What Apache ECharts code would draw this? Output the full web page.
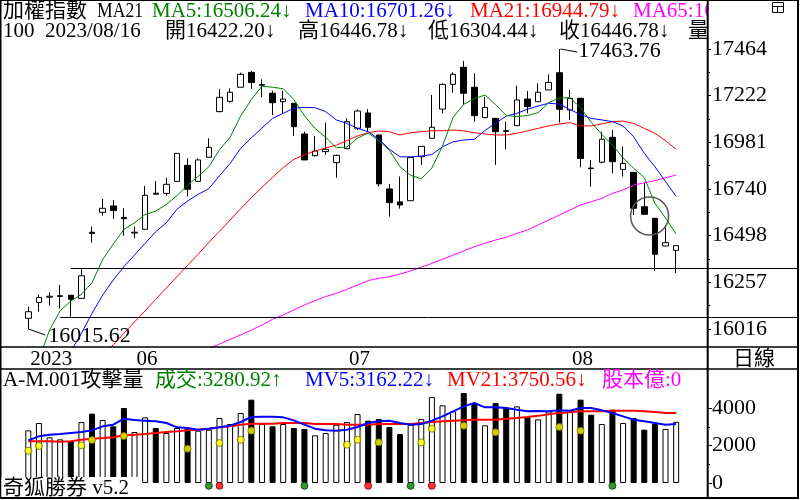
<!DOCTYPE html>
<html lang="zh-Hant">
<head>
<meta charset="UTF-8">
<title>加權指數 日線</title>
<script src="https://cdn.jsdelivr.net/npm/echarts@6/dist/echarts.min.js"></script>
<style>html,body{margin:0;padding:0;background:#fff}</style>
</head>
<body>
<div id="main" style="width:800px;height:500px"></div>
<script>
// ---- data ----
const dates = [
  '2023/05/18','2023/05/19','2023/05/22','2023/05/23','2023/05/24','2023/05/25','2023/05/26','2023/05/29','2023/05/30','2023/05/31',
  '2023/06/01','2023/06/02','2023/06/05','2023/06/06','2023/06/07','2023/06/08','2023/06/09','2023/06/12','2023/06/13','2023/06/14',
  '2023/06/15','2023/06/16','2023/06/19','2023/06/20','2023/06/21','2023/06/26','2023/06/27','2023/06/28','2023/06/29','2023/06/30',
  '2023/07/03','2023/07/04','2023/07/05','2023/07/06','2023/07/07','2023/07/10','2023/07/11','2023/07/12','2023/07/13','2023/07/14',
  '2023/07/17','2023/07/18','2023/07/19','2023/07/20','2023/07/21','2023/07/24','2023/07/25','2023/07/26','2023/07/27','2023/07/28',
  '2023/07/31','2023/08/01','2023/08/02','2023/08/04','2023/08/07','2023/08/08','2023/08/09','2023/08/10','2023/08/11','2023/08/14',
  '2023/08/15','2023/08/16'
];
const opens = [16071,16153,16180,16184,16190,16174,16516,16619,16652,16593,
  16512,16531,16718,16717,16779,16862,16779,16904,17140,17193,
  17266,17343,17276,17235,17191,17183,17024,16912,16933,16876,
  16948,17054,17133,17019,16740,16673,16679,16907,17002,17153,
  17281,17369,17266,17109,17105,17041,17067,17205,17191,17252,
  17341,17148,17209,16848,16878,17007,16841,16826,16648,16588,
  16445,16422.20];
const closes = [16105,16179,16185,16188,16169,16291,16510,16640,16628,16586,
  16516,16707,16713,16764,16924,16738,16890,16955,17214,17240,
  17333,17291,17280,17186,17205,17062,16890,16936,16945,16914,
  17088,17143,17059,16766,16669,16657,16902,16960,17059,17281,
  17333,17235,17119,17162,17036,17038,17200,17166,17240,17291,
  17152,17209,16898,16845,16997,16881,16872,16640,16609,16402,
  16462,16446.78];
const lows = [16015.62,16105,16136,16122,16079,16174,16462,16602,16585,16498,
  16485,16531,16712,16705,16779,16700,16779,16904,17136,17186,
  17266,17258,17214,17122,17131,17014,16890,16907,16916,16798,
  16948,17045,17036,16752,16597,16638,16679,16864,17002,17131,
  17238,17174,17088,17105,16864,16945,17067,17131,17191,17252,
  17083,17097,16852,16752,16872,16821,16804,16605,16609,16317,
  16445,16304.44];
const highs = [16131,16195,16205,16243,16191,16329,16545,16688,16683,16640,
  16545,16755,16781,16798,16924,16898,16898,17002,17257,17260,
  17341,17350,17307,17248,17248,17183,17036,17014,17083,16917,
  17105,17152,17153,17019,16766,16804,16902,16960,17226,17286,
  17343,17402,17338,17217,17105,17088,17274,17247,17286,17333,
  17463.76,17252,17209,16890,17036,17045,16959,16826,16772,16588,
  16545,16446.78];

const ma5 = [15780,15860,16010,16110,16160,16195,16255,16375,16455,16530,
  16565,16608,16625,16660,16705,16760,16805,16855,16942,17007,
  17118,17202,17272,17266,17258,17203,17118,17053,17007,16953,
  16957,17003,17029,16990,16940,16855,16810,16793,16848,16962,
  17110,17178,17207,17226,17176,17120,17114,17120,17134,17186,
  17210,17212,17160,17085,17022,16967,16901,16847,16799,16665,
  16590,16506.24];
const ma10 = [null,null,null,15800,15900,15993,16097,16191,16269,16338,
  16398,16459,16519,16565,16635,16678,16712,16742,16808,16872,
  16950,17004,17055,17105,17131,17158,17162,17160,17140,17097,
  17079,17053,17036,16998,16945,16906,16906,16910,16918,16958,
  16984,16993,16997,17042,17080,17117,17131,17152,17169,17183,
  17179,17150,17125,17105,17097,17088,17066,17010,16924,16855,
  16778,16701.26];
const ma21 = [null,null,null,null,null,null,null,15870,15935,15993,
  16052,16110,16169,16228,16286,16345,16403,16464,16521,16579,
  16638,16695,16748,16800,16850,16893,16917,16936,16952,16967,
  16990,17014,17031,17040,17036,17019,17031,17036,17041,17041,
  17045,17040,17031,17024,17019,17019,17028,17040,17053,17066,
  17076,17083,17066,17066,17076,17088,17091,17079,17053,17028,
  16990,16944.79];
const ma65 = [null,null,null,null,null,null,null,null,null,null,
  null,null,null,null,null,null,15895,15915,15938,15962,
  15985,16010,16036,16066,16088,16114,16140,16162,16183,16200,
  16221,16243,16266,16278,16286,16300,16316,16335,16355,16376,
  16398,16419,16441,16459,16476,16490,16510,16528,16554,16579,
  16605,16631,16657,16674,16691,16717,16735,16760,16772,16783,
  16798,16812];

const volumes = [2823,3217,2448,2341,2234,3270,3717,3377,3038,4021,
  2734,3520,2949,2681,2949,2949,2806,2859,3485,3163,
  3753,4468,3163,3038,3163,2949,2895,2555,2681,3127,
  3270,3699,3342,3431,3002,2627,3127,3431,4610,4164,
  3842,4825,4289,3092,4289,4021,4110,3520,3413,3842,
  4789,3842,4468,3663,3163,3931,3217,3485,2859,3163,
  2895,3280.92];
const mv5 = [2287,2502,2591,2627,2681,2734,2823,3038,3127,3449,
  3377,3342,3306,3217,2984,2949,2859,2913,2984,3074,
  3270,3538,3556,3556,3520,3360,3127,2913,2823,2806,
  2859,3002,3217,3306,3342,3217,3127,3163,3342,3574,
  3842,4110,4289,4056,4056,4021,3931,3842,3860,3842,
  3896,3878,4021,4021,3896,3753,3574,3395,3306,3217,
  3127,3162.22];
const mv21 = [2234,2234,2234,2216,2234,2323,2377,2412,2448,2555,
  2591,2627,2681,2734,2770,2823,2859,2913,2984,3038,
  3127,3181,3181,3181,3217,3217,3217,3163,3163,3163,
  3127,3127,3127,3163,3163,3163,3163,3217,3270,3306,
  3342,3360,3395,3395,3395,3449,3485,3538,3600,3690,
  3760,3800,3842,3842,3842,3878,3878,3878,3842,3806,
  3760,3750.56];

// yellow "attack volume" dots, green / red signal dots
const attackIdx  = [0,1,5,6,9,15,18,20,21,30,31,33,37,38,41,44,50,52];
const attackVals = [1732,1984,2020,2305,2520,1840,2145,2323,2805,2055,2323,2180,2180,2913,3074,2716,3003,2805];
const buyIdx  = [17,26,36,55];
const sellIdx = [18,32,38];

// axis labels / ticks
const axisMarkIdx  = [0,10,30,51];
const axisMarkText = ['2023','06','07','08'];
const weekTickIdx  = [7,17,22,25,40,45,54,59];
const priceTicks = [16015.62,16256.98,16498.33,16739.69,16981.05,17222.40,17463.76];
const priceMinor = [16136.30,16377.65,16619.01,16860.37,17101.72,17343.08];
const volTicks = [0,2000,4000];
const volMinor = [1000,3000];

// ---- chart ----
const FONT = "'Liberation Serif', 'Noto Sans CJK TC', serif";
const SIGNAL_Y = -150;
const chart = echarts.init(document.getElementById('main'));
const cats = dates.concat(['', '']);
const candles = opens.map((o, i) => [o, closes[i], lows[i], highs[i]]);
const isUp = i => closes[i] >= opens[i];
const has = (arr, i) => arr.indexOf(i) >= 0;

function maLine(data, color, width, xi, yi) {
  return {
    type: 'line', xAxisIndex: xi, yAxisIndex: yi, data: data,
    symbol: 'none', connectNulls: false, silent: true, z: 3,
    lineStyle: { color: color, width: width }, itemStyle: { color: color }
  };
}
function valueAxis(grid, min, max, ticks, len, labels) {
  return {
    type: 'value', gridIndex: grid, position: 'right', offset: 4.3, min: min, max: max,
    axisLine: { show: false }, splitLine: { show: false },
    axisTick: { show: true, customValues: ticks, length: len, lineStyle: { color: '#000' } },
    axisLabel: labels ? {
      customValues: ticks, formatter: v => String(Math.round(v)), margin: 5,
      color: '#000', fontFamily: FONT, fontSize: 22
    } : { show: false }
  };
}

const option = {
  animation: false,
  backgroundColor: '#fff',
  grid: [
    { left: 23, top: 0, width: 679.7, height: 347 },
    { left: 23, top: 369, width: 679.7, height: 128.7 }
  ],
  xAxis: [
    { type: 'category', gridIndex: 0, data: cats, position: 'bottom',
      axisLine: { show: false }, axisLabel: { show: false }, splitLine: { show: false },
      axisTick: { alignWithLabel: true, length: 5, interval: i => has(weekTickIdx, i), lineStyle: { color: '#000' } } },
    { type: 'category', gridIndex: 0, data: cats, position: 'bottom',
      axisLine: { show: false }, splitLine: { show: false },
      axisTick: { alignWithLabel: true, length: 12, interval: i => i > 0 && has(axisMarkIdx, i), lineStyle: { color: '#000' } },
      axisLabel: { interval: i => has(axisMarkIdx, i), formatter: (v, i) => axisMarkText[axisMarkIdx.indexOf(i)],
        align: 'left', padding: [0, 0, 0, 2], margin: 2, color: '#000', fontFamily: FONT, fontSize: 21 } },
    { type: 'category', gridIndex: 0, data: cats, position: 'bottom',
      axisLine: { show: false }, axisLabel: { show: false }, splitLine: { show: false },
      axisTick: { alignWithLabel: true, length: 18, interval: i => i === axisMarkIdx[0], lineStyle: { color: '#000' } } },
    { type: 'category', gridIndex: 1, data: cats, show: false }
  ],
  yAxis: [
    valueAxis(0, 15922.5, 17717.2, priceTicks, 4, true),
    valueAxis(0, 15922.5, 17717.2, priceMinor, 3, false),
    valueAxis(1, -788, 6113, volTicks, 5, true),
    valueAxis(1, -788, 6113, volMinor, 3, false)
  ],
  series: [
    { type: 'candlestick', xAxisIndex: 0, yAxisIndex: 0, data: candles, barWidth: 6, silent: true,
      itemStyle: { color: '#fff', color0: '#000', borderColor: '#000', borderColor0: '#000',
        borderColorDoji: '#000', borderWidth: 1 } },
    maLine(ma65, '#ff00ff', 1, 0, 0),
    maLine(ma21, '#ff0000', 1, 0, 0),
    maLine(ma10, '#0000ff', 1, 0, 0),
    maLine(ma5, '#008000', 1, 0, 0),
    { type: 'bar', xAxisIndex: 3, yAxisIndex: 2, barWidth: 6, silent: true,
      data: volumes.map((v, i) => ({ value: v, itemStyle: isUp(i)
        ? { color: '#fff', borderColor: '#000', borderWidth: 1 }
        : { color: '#000', borderColor: '#000', borderWidth: 1 } })) },
    maLine(mv21, '#ff0000', 2, 3, 2),
    maLine(mv5, '#0000ff', 2, 3, 2),
    { type: 'scatter', xAxisIndex: 3, yAxisIndex: 2, symbolSize: 7, silent: true, z: 5,
      data: attackIdx.map((i, k) => [i, attackVals[k]]),
      itemStyle: { color: '#ffff00', borderColor: '#6e6e00', borderWidth: 1 } },
    { type: 'scatter', xAxisIndex: 3, yAxisIndex: 2, symbolSize: 7, silent: true, z: 5,
      data: buyIdx.map(i => [i, SIGNAL_Y]),
      itemStyle: { color: '#008000', borderColor: '#003300', borderWidth: 1 } },
    { type: 'scatter', xAxisIndex: 3, yAxisIndex: 2, symbolSize: 7, silent: true, z: 5,
      data: sellIdx.map(i => [i, SIGNAL_Y]),
      itemStyle: { color: '#ff0000', borderColor: '#660000', borderWidth: 1 } }
  ]
};
chart.setOption(option);

// ---- overlays: frame, header texts, annotations ----
const g = [];
function line(x1, y1, x2, y2, w, c) {
  g.push({ type: 'line', z: 100, silent: true, shape: { x1: x1, y1: y1, x2: x2, y2: y2 },
    style: { stroke: c || '#000', lineWidth: w || 1 } });
}
function text(x, y, s, c, size, extra, z) {
  const el = { type: 'text', z: z || 102, silent: true, x: x, y: y,
    style: { text: s, fill: c || '#000', font: (size || 21) + 'px ' + FONT, verticalAlign: 'middle' } };
  g.push(Object.assign(el, extra || {}));
}
const px = (i, v) => chart.convertToPixel({ xAxisIndex: 0, yAxisIndex: 0 }, [i, v]);
const last = dates.length - 1;

// frame
line(0.75, 0, 0.75, 498, 1.5);
line(0, 0.5, 798, 0.5, 1);
line(707.7, 0, 707.7, 498, 2);
line(798, 0, 798, 499, 2);
line(0, 498, 799, 498, 2);
line(0, 347, 798, 347, 1.5);
line(0, 369, 798, 369, 1.5);

// support / resistance lines
[[4, highs[5]], [3, lows[4]]].forEach(function (d) {
  const p = px(d[0], d[1]);
  const y = Math.round(p[1]) + 0.5;
  line(p[0], y, 797, y, 1);
});

// extreme labels
const hi = px(50, highs[50]);
line(hi[0] + 1, hi[1], hi[0] + 18, hi[1] + 3, 1);
text(hi[0] + 19, hi[1] + 2, highs[50].toFixed(2), '#000', 22);
const lo = px(0, lows[0]);
line(lo[0], lo[1], lo[0] + 17, lo[1] + 6, 1);
text(lo[0] + 20, lo[1] + 7, lows[0].toFixed(2), '#000', 22);

// circle marker
const ca = px(58, 16600), cb = px(59, 16600);
g.push({ type: 'circle', z: 100, silent: true, shape: { cx: (ca[0] + cb[0]) / 2, cy: ca[1], r: 19 },
  style: { fill: 'none', stroke: '#555', lineWidth: 1.5 } });

// header row 1
text(3, 11, '加權指數');
text(97, 11, 'MA21', '#000', 21, { scaleX: 0.84 });
text(152, 11, 'MA5:' + ma5[last].toFixed(2) + '↓', '#008000');
text(305, 11, 'MA10:' + ma10[last].toFixed(2) + '↓', '#0000ff');
text(470, 11, 'MA21:' + ma21[last].toFixed(2) + '↓', '#ff0000');
text(633, 11, 'MA65:' + ma65[last].toFixed(2) + '↓', '#ff00ff', 21, null, 98);
// mask the part of the header that runs under the price scale
g.push({ type: 'rect', z: 99, silent: true, shape: { x: 708.7, y: 1, width: 88.3, height: 22 },
  style: { fill: '#fff' } });
// header row 2
text(3, 31, '100');
text(45, 31, dates[last]);
text(165, 31, '開' + opens[last].toFixed(2) + '↓');
text(298, 31, '高' + highs[last].toFixed(2) + '↓');
text(428, 31, '低' + lows[last].toFixed(2) + '↓');
text(559, 31, '收' + closes[last].toFixed(2) + '↓');
text(688, 31, '量');

// window icon
g.push({ type: 'rect', z: 100, silent: true, shape: { x: 772.5, y: 2.5, width: 11, height: 10 },
  style: { fill: 'none', stroke: '#000', lineWidth: 1 } });
line(772.5, 6.5, 783.5, 6.5, 1);
line(777.5, 6.5, 777.5, 12.5, 1);

// period box
text(733, 359, '日線');

// volume title row
text(3, 380, 'A-M.001攻擊量');
text(155, 380, '成交:' + volumes[last].toFixed(2) + '↑', '#008000');
text(305, 380, 'MV5:' + mv5[last].toFixed(2) + '↓', '#0000ff');
text(447, 380, 'MV21:' + mv21[last].toFixed(2) + '↓', '#ff0000');
text(602, 380, '股本億:0', '#ff00ff');

// footer
g.push({ type: 'rect', z: 101, silent: true, shape: { x: 1.5, y: 477, width: 137, height: 20 },
  style: { fill: '#fff' } });
text(3, 488, '奇狐勝券 v5.2');

chart.setOption({ graphic: g });
</script>
</body>
</html>
